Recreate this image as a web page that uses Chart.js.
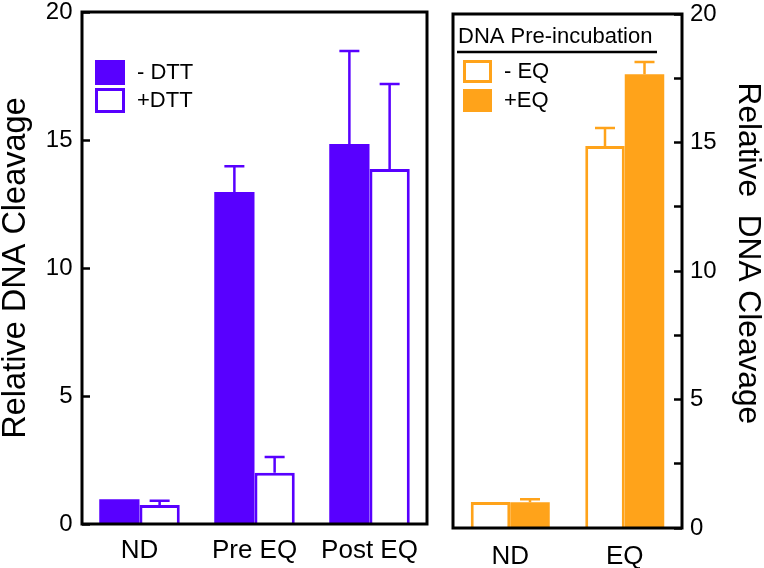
<!DOCTYPE html>
<html>
<head>
<meta charset="utf-8">
<script src="https://cdn.jsdelivr.net/npm/chart.js@4.4.1/dist/chart.umd.min.js"></script>
<style>
  html, body { margin: 0; padding: 0; background: #fff; }
  #wrap { position: relative; width: 764px; height: 568px; }
  .panel { position: absolute; top: 0; height: 568px; }
  #leftBox { left: 0; width: 440px; }
  #rightBox { left: 440px; width: 324px; }
</style>
</head>
<body>
<div id="wrap">
  <div class="panel" id="leftBox"><canvas id="leftChart" width="440" height="568"></canvas></div>
  <div class="panel" id="rightBox"><canvas id="rightChart" width="324" height="568"></canvas></div>
</div>
<script>
// Left panel data
const leftCategories = ['ND', 'Pre EQ', 'Post EQ'];
const minusDTT = [0.97, 12.97, 14.84];
const minusDTTErr = [0, 1.0, 3.64];
const plusDTT = [0.74, 2.0, 13.87];
const plusDTTErr = [0.17, 0.62, 3.32];
const leftTickValues = [0, 5, 10, 15, 20];
const leftTickLabels = ['0', '5', '10', '15', '20'];

// Right panel data
const rightCategories = ['ND', 'EQ'];
const minusEQ = [1.01, 14.86];
const minusEQErr = [0, 0.7];
const plusEQ = [1.0, 17.66];
const plusEQErr = [0.12, 0.47];
const rightTickValues = [0, 2.5, 5, 7.5, 10, 12.5, 15, 17.5, 20];
const rightTickLabels = ['0', '', '5', '', '10', '', '15', '', '20'];

const PURPLE = '#5800ff';
const ORANGE = '#ffa31a';
const FONT = "'Liberation Sans', Arial, sans-serif";

Chart.defaults.font.family = FONT;
Chart.defaults.color = '#000';

// -----------------------------
// Error bars + box frame
// -----------------------------
const errorBarsAndFrame = {
  id: 'errorBarsAndFrame',
  afterDatasetsDraw(chart) {
    const ctx = chart.ctx;
    const yScale = chart.scales.y;
    chart.data.datasets.forEach((ds, i) => {
      chart.getDatasetMeta(i).data.forEach((bar, j) => {
        const err = ds.errors[j];
        if (!err) return;
        const top = yScale.getPixelForValue(ds.data[j] + err);
        ctx.save();
        ctx.strokeStyle = ds.borderColor;
        ctx.lineWidth = 2.5;
        ctx.beginPath();
        ctx.moveTo(bar.x, bar.y);
        ctx.lineTo(bar.x, top);
        ctx.moveTo(bar.x - 10, top);
        ctx.lineTo(bar.x + 10, top);
        ctx.stroke();
        ctx.restore();
      });
    });
    const a = chart.chartArea;
    ctx.save();
    ctx.lineWidth = 3;
    ctx.strokeStyle = '#000';
    ctx.strokeRect(a.left, a.top, a.right - a.left, a.bottom - a.top);
    ctx.restore();
  }
};

// -----------------------------
// Legend drawn inside the plot
// -----------------------------
const boxLegend = {
  id: 'boxLegend',
  afterDraw(chart, args, opts) {
    const ctx = chart.ctx;
    ctx.save();
    ctx.textBaseline = 'middle';
    if (opts.title) {
      ctx.fillStyle = '#000';
      ctx.font = '22px ' + FONT;
      ctx.fillText(opts.title, opts.titleX, opts.titleY);
      ctx.lineWidth = 2.5;
      ctx.strokeStyle = '#000';
      ctx.beginPath();
      ctx.moveTo(opts.lineX1, opts.lineY);
      ctx.lineTo(opts.lineX2, opts.lineY);
      ctx.stroke();
    }
    ctx.font = '22px ' + FONT;
    chart.data.datasets.forEach((ds, i) => {
      const top = opts.y + i * opts.step;
      ctx.fillStyle = ds.backgroundColor;
      ctx.fillRect(opts.x, top, opts.w, opts.h);
      ctx.lineWidth = 3;
      ctx.strokeStyle = ds.borderColor;
      ctx.strokeRect(opts.x + 1.5, top + 1.5, opts.w - 3, opts.h - 3);
      ctx.fillStyle = '#000';
      ctx.fillText(ds.label, opts.textX, top + opts.h / 2);
    });
    ctx.restore();
  }
};

const makeScales = (cfg) => ({
  x: {
    grid: { display: false, drawTicks: false },
    border: { display: false },
    ticks: { padding: cfg.xPad, font: { size: 26, lineHeight: 1 } },
    afterFit: s => { s.height = cfg.xHeight; s.paddingLeft = 0; s.paddingRight = 0; }
  },
  y: {
    position: cfg.side,
    min: 0,
    max: 20,
    afterBuildTicks: s => { s.ticks = cfg.tickValues.map(v => ({ value: v })); },
    ticks: {
      padding: cfg.yPad,
      font: { size: 24, lineHeight: 1 },
      callback: (v, i) => cfg.tickLabels[i]
    },
    grid: { drawOnChartArea: false, tickLength: -8, tickWidth: 2.5, tickColor: '#000' },
    border: { display: false },
    title: { display: true, text: cfg.title, font: { size: cfg.titleSize, lineHeight: 1 }, padding: 0 },
    afterFit: s => { s.width = 82; s.paddingTop = 0; s.paddingBottom = 0; }
  }
});

// -----------------------------
// Left chart: DTT
// -----------------------------
new Chart(document.getElementById('leftChart'), {
  type: 'bar',
  data: {
    labels: leftCategories,
    datasets: [
      { label: '- DTT', data: minusDTT, errors: minusDTTErr, backgroundColor: PURPLE, borderColor: PURPLE, borderWidth: 0 },
      { label: '+DTT', data: plusDTT, errors: plusDTTErr, backgroundColor: '#ffffff', borderColor: PURPLE, borderWidth: 3 }
    ]
  },
  options: {
    responsive: false,
    animation: false,
    layout: { padding: { top: 12, right: 13, left: 0, bottom: 0 } },
    datasets: { bar: { categoryPercentage: 0.7, barPercentage: 1.0 } },
    plugins: {
      legend: { display: false },
      tooltip: { enabled: false },
      boxLegend: { x: 95, y: 60, w: 30, h: 25, step: 28, textX: 137 }
    },
    scales: makeScales({ side: 'left', xPad: 14, xHeight: 44, yPad: 17.5, tickValues: leftTickValues, tickLabels: leftTickLabels, title: 'Relative DNA Cleavage', titleSize: 32.5 })
  },
  plugins: [errorBarsAndFrame, boxLegend]
});

// -----------------------------
// Right chart: EQ pre-incubation
// -----------------------------
new Chart(document.getElementById('rightChart'), {
  type: 'bar',
  data: {
    labels: rightCategories,
    datasets: [
      { label: '- EQ', data: minusEQ, errors: minusEQErr, backgroundColor: '#ffffff', borderColor: ORANGE, borderWidth: 3 },
      { label: '+EQ', data: plusEQ, errors: plusEQErr, backgroundColor: ORANGE, borderColor: ORANGE, borderWidth: 0 }
    ]
  },
  options: {
    responsive: false,
    animation: false,
    layout: { padding: { top: 14, right: 0, left: 13, bottom: 0 } },
    datasets: { bar: { categoryPercentage: 0.69, barPercentage: 1.0 } },
    plugins: {
      legend: { display: false },
      tooltip: { enabled: false },
      boxLegend: {
        title: 'DNA Pre-incubation', titleX: 18, titleY: 37, lineX1: 17, lineX2: 217, lineY: 52,
        x: 23, y: 60, w: 29, h: 23, step: 29, textX: 64
      }
    },
    scales: makeScales({ side: 'right', xPad: 16, xHeight: 40, yPad: 16, tickValues: rightTickValues, tickLabels: rightTickLabels, title: 'Relative  DNA Cleavage    ', titleSize: 31.7 })
  },
  plugins: [errorBarsAndFrame, boxLegend]
});
</script>
</body>
</html>
